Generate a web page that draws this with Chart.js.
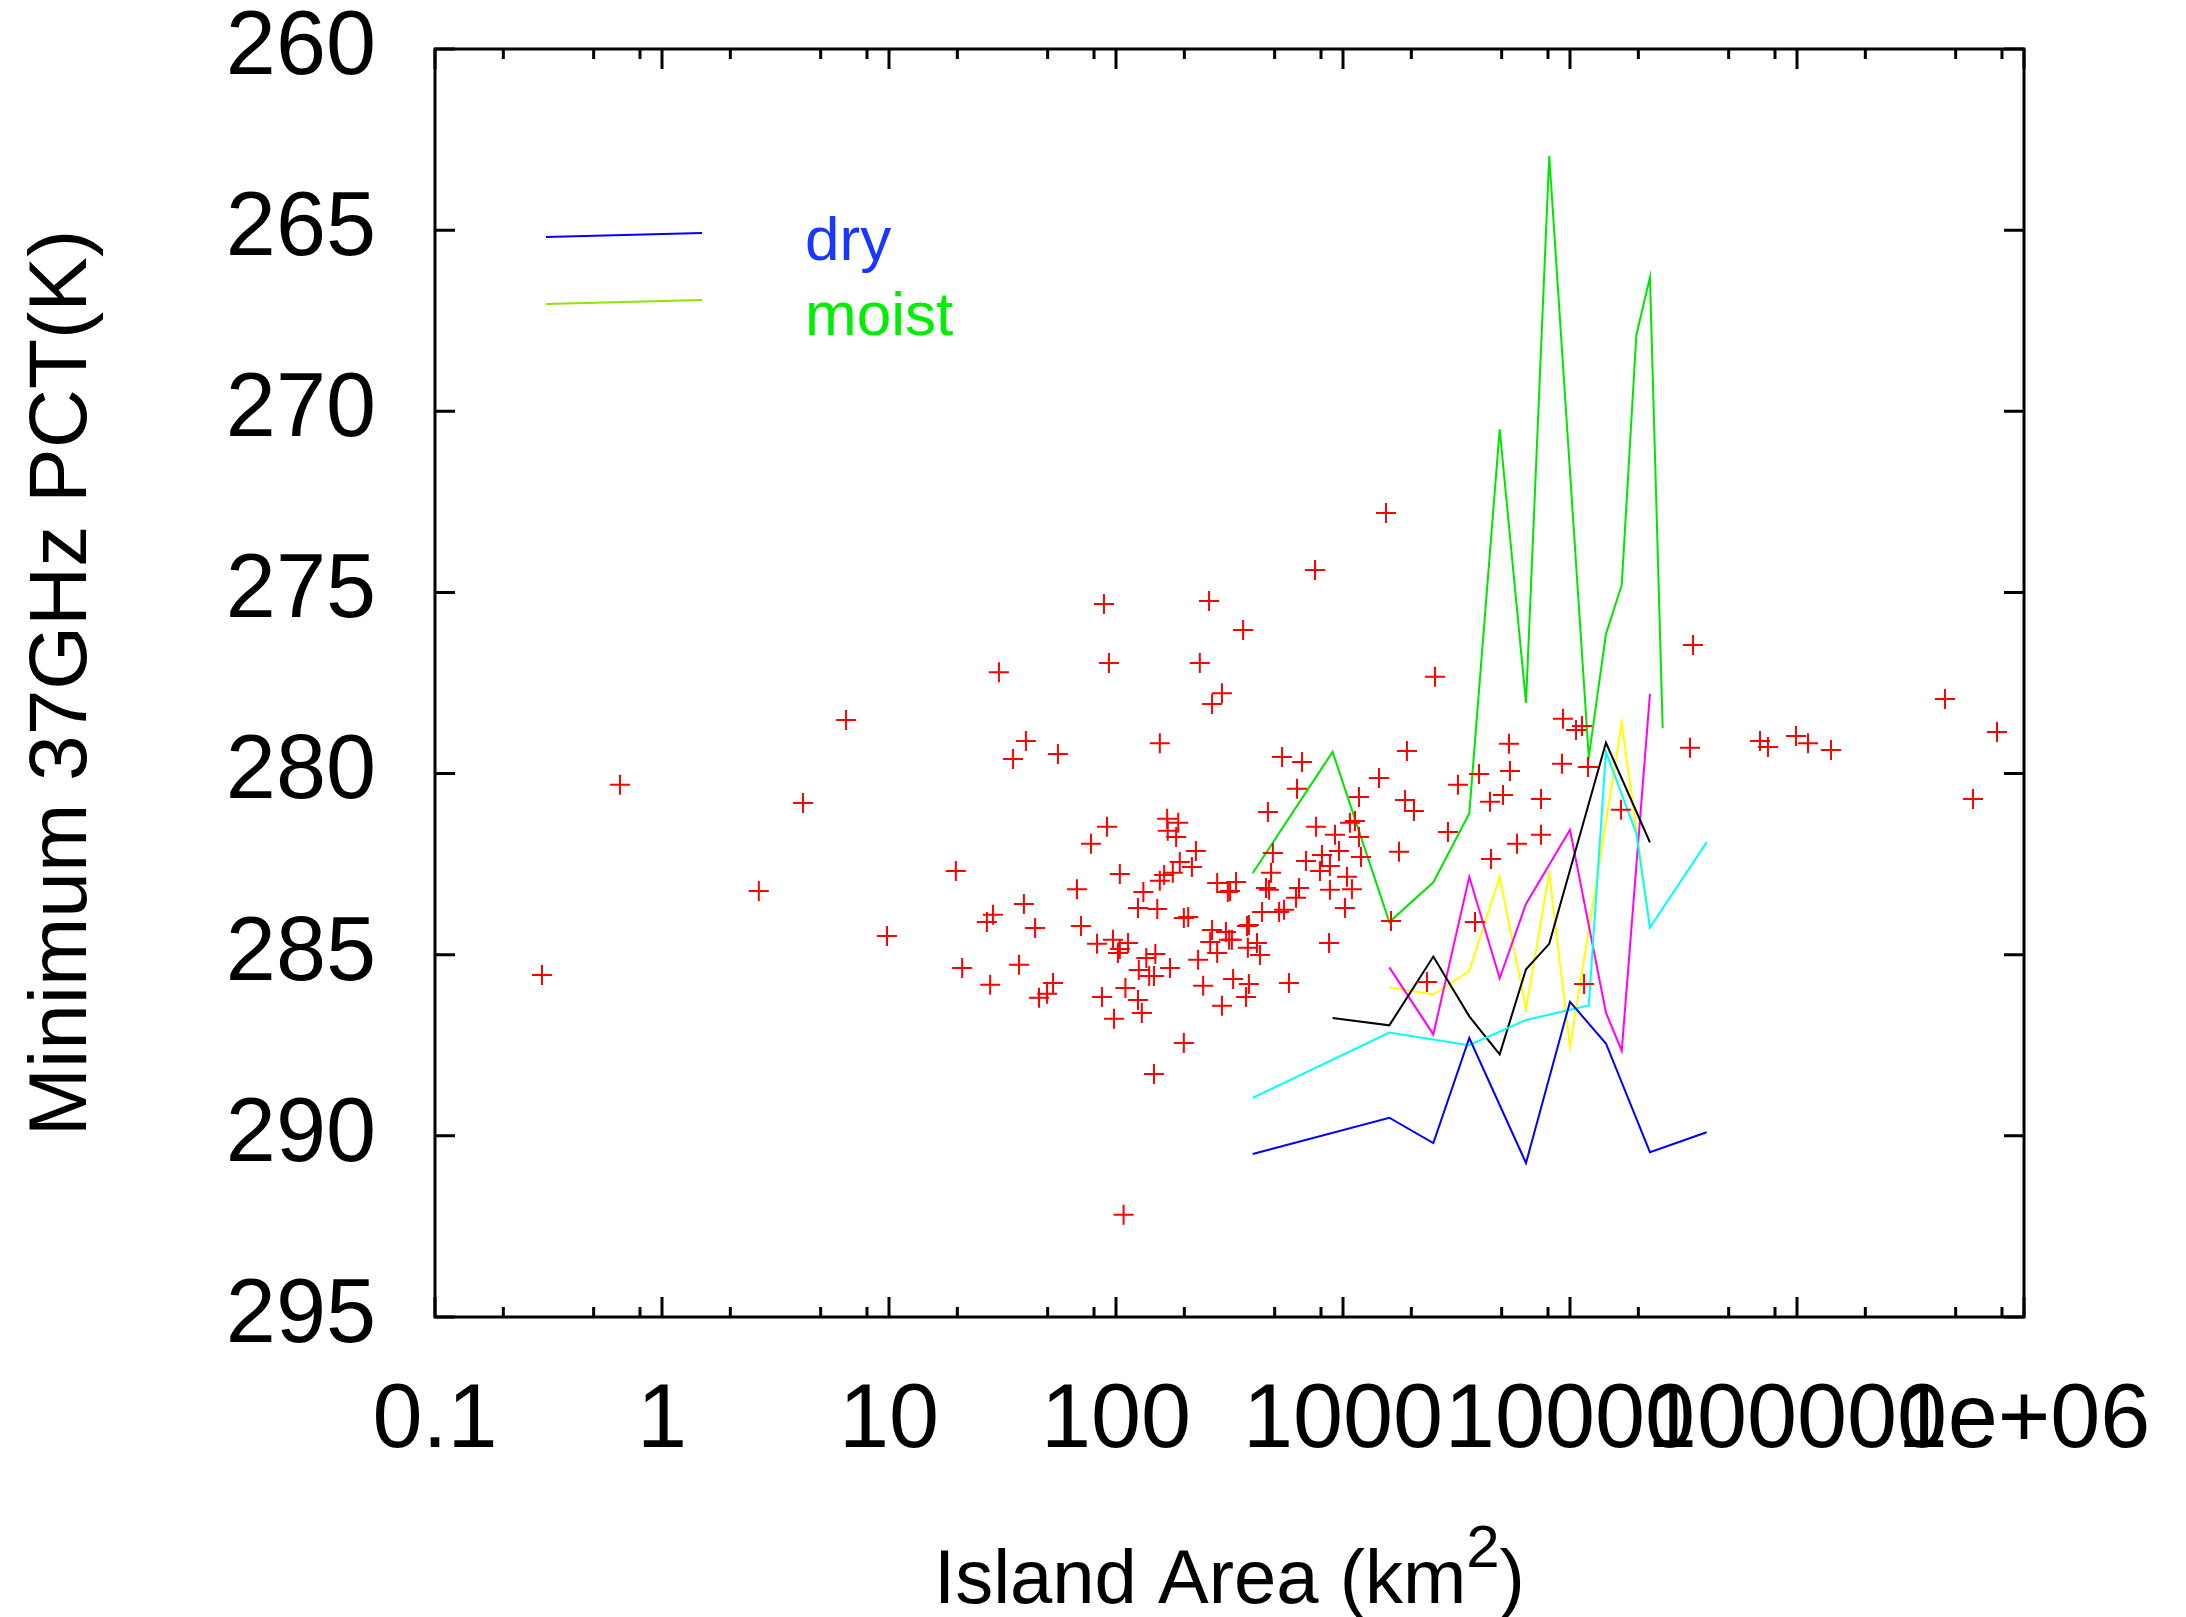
<!DOCTYPE html>
<html>
<head>
<meta charset="utf-8">
<title>Island area vs minimum 37GHz PCT</title>
<script src="https://cdn.jsdelivr.net/npm/chart.js@4.4.1/dist/chart.umd.min.js"></script>
<style>
  html, body { margin: 0; padding: 0; background: #ffffff; }
  canvas { display: block; }
</style>
</head>
<body>
<canvas id="myChart" width="2186" height="1617"></canvas>
<script>
// one entry per island: area (km2) and minimum 37GHz PCT (K)
var islandArea = [
    0.296, 0.653, 2.67, 4.18, 6.47, 9.80, 19.7, 21.0, 27.9, 27.0, 28.7, 30.5, 35.2, 40.1, 39.3, 37.4,
    753, 88.5, 257, 363, 93.1, 234, 293, 265, 55.5, 156, 539, 660, 627, 467, 761, 922,
    91.3, 77.6, 168, 188, 169, 184, 225, 191, 216, 178, 491, 482, 687, 808, 960, 792,
    876, 104, 67.3, 44.0, 70.1, 132, 125, 156, 152, 163, 208, 199, 279, 318, 338, 311,
    458, 472, 440, 523, 550, 640, 621, 876, 1020, 868, 82.5, 97.0, 104, 102, 113, 265,
    260, 305, 315, 324, 378, 385, 418, 381, 431, 279, 230, 173, 136, 149, 126, 140,
    147, 52.8, 49.7, 45.8, 86.8, 110, 125, 130, 98.0, 242, 328, 385, 374, 293, 578, 199,
    147, 108,
    1547, 2543, 34830, 1073, 1129, 1176, 1441, 1913, 1876, 2055, 1176, 1200, 1765, 1041, 1095, 1627,
    2901, 3210, 3973, 4442, 5068, 5386, 5441, 7452, 5843, 7452, 4487, 3815, 9316, 11290, 10630, 9222,
    12000, 16780, 33780, 2344, 11530,
    68710, 74510, 99000, 111800, 141200, 448700, 760500, 596300
];
var islandPct = [
    285.56, 280.31, 283.24, 280.81, 278.52, 284.48, 282.69, 285.37, 285.83, 284.10, 283.90, 277.20, 279.60, 279.10, 283.60, 285.28,
    274.38, 275.32, 275.24, 276.04, 276.95, 276.95, 277.78, 278.08, 279.46, 279.16, 279.54, 279.68, 280.42, 281.06, 281.47, 281.69,
    281.47, 281.94, 281.25, 281.36, 281.58, 281.75, 282.14, 282.44, 282.58, 282.74, 282.19, 282.74, 282.41, 282.25, 282.14, 282.69,
    282.55, 282.77, 283.19, 284.26, 284.21, 283.27, 283.71, 282.96, 283.74, 282.80, 283.96, 283.99, 283.02, 283.24, 282.99, 283.27,
    283.16, 283.21, 283.82, 283.82, 283.76, 283.16, 283.43, 283.21, 283.71, 284.68, 284.70, 284.59, 284.84, 284.95, 284.68, 284.32,
    284.65, 284.37, 284.59, 284.59, 284.21, 284.18, 284.68, 284.81, 285.01, 284.95, 285.14, 285.37, 285.09, 284.98, 285.42, 285.59,
    285.59, 285.78, 286.08, 286.19, 286.17, 285.92, 286.25, 286.61, 286.77, 285.86, 285.67, 285.81, 286.17, 286.41, 285.78, 287.44,
    288.29, 292.18,
    272.81, 277.33, 276.45, 281.36, 281.31, 280.65, 280.12, 279.38, 280.73, 281.03, 281.75, 282.30, 282.16, 282.85, 283.19, 284.07,
    281.61, 280.31, 280.01, 280.78, 280.59, 279.18, 279.93, 280.70, 281.94, 281.69, 282.36, 284.10, 278.49, 278.69, 278.80, 279.73,
    279.82, 281.00, 279.29, 285.75, 285.81,
    279.10, 279.27, 278.96, 279.16, 279.35, 277.94, 278.85, 280.70
];

// bin centres (km2) for the averaged curves, null where a curve has no value
var binArea = [400, 900, 1600, 2500, 3600, 4900, 6400, 8100, 10000, 12100, 14400, 16900, 19600, 22500, 25600, 40000];
var dryPct     = [290.5, null, 289.5, 290.2, 287.3, null, 290.75, null, 286.3, null, 287.45, null, null, 290.45, null, 289.9];
var moistPct   = [282.75, 279.4, 284.1, 283.0, 281.1, 270.5, 278.05, 262.95, null, 279.55, 276.15, 274.8, 267.9, 266.3, 278.75, null];
var cyanPct    = [288.95, null, 287.15, null, 287.5, null, 286.8, null, null, 286.4, 279.4, null, 281.65, 284.25, null, 281.9];
var blackPct   = [null, 286.75, 286.95, 285.05, 286.7, 287.75, 285.4, 284.7, null, null, 279.15, null, null, 281.9, null, null];
var magentaPct = [null, null, 285.35, 287.2, 282.85, 285.65, 283.6, null, 281.55, null, 286.6, 287.65, null, 277.8, null, null];
var yellowPct  = [null, null, 285.9, 286.1, 285.45, 282.85, 286.5, 282.75, 287.55, null, null, 278.6, null, 284.25, null, null];

var areaTicks = [0.1, 1, 10, 100, 1000, 10000, 100000, 1000000];
var areaTickLabels = ["0.1", "1", "10", "100", "1000", "10000", "100000", "1e+06"];
var areaMinor = [2, 5, 8];

var FONT = "'Liberation Sans', Arial, sans-serif";

function curve(vals) {
    var pts = [];
    for (var i = 0; i < binArea.length; i++) {
        if (vals[i] !== null) pts.push({ x: binArea[i], y: vals[i] });
    }
    return pts;
}

function lineSet(label, vals, color) {
    return {
        label: label,
        data: curve(vals),
        showLine: true,
        borderColor: color,
        backgroundColor: color,
        borderWidth: 2,
        pointRadius: 0,
        tension: 0,
        fill: false,
        order: 1
    };
}

// gnuplot style box, inward tics, the two-line key and the x label with km^2
var boxAndKey = {
    id: "boxAndKey",
    afterDraw: function (chart) {
        var ctx = chart.ctx;
        var a = chart.chartArea;
        var xs = chart.scales.x;
        var ys = chart.scales.y;

        ctx.save();
        ctx.strokeStyle = "#000000";
        ctx.lineWidth = 3;
        ctx.strokeRect(a.left, a.top, a.right - a.left, a.bottom - a.top);

        ctx.beginPath();
        for (var i = 0; i < areaTicks.length; i++) {
            var px = xs.getPixelForValue(areaTicks[i]);
            ctx.moveTo(px, a.bottom); ctx.lineTo(px, a.bottom - 20);
            ctx.moveTo(px, a.top); ctx.lineTo(px, a.top + 20);
            if (i < areaTicks.length - 1) {
                for (var m = 0; m < areaMinor.length; m++) {
                    var mx = xs.getPixelForValue(areaTicks[i] * areaMinor[m]);
                    ctx.moveTo(mx, a.bottom); ctx.lineTo(mx, a.bottom - 10);
                    ctx.moveTo(mx, a.top); ctx.lineTo(mx, a.top + 10);
                }
            }
        }
        ys.ticks.forEach(function (t) {
            var py = ys.getPixelForValue(t.value);
            ctx.moveTo(a.left, py); ctx.lineTo(a.left + 20, py);
            ctx.moveTo(a.right, py); ctx.lineTo(a.right - 20, py);
        });
        ctx.stroke();

        // key: dry / moist
        var keys = [
            { ds: chart.data.datasets[1], line: "#0000ff", text: "#1838ff", dy: 0, ty: 211 },
            { ds: chart.data.datasets[2], line: "#8ee600", text: "#00ee00", dy: 67, ty: 286 }
        ];
        ctx.lineWidth = 2;
        ctx.font = "62px " + FONT;
        ctx.textBaseline = "alphabetic";
        keys.forEach(function (k) {
            ctx.strokeStyle = k.line;
            ctx.beginPath();
            ctx.moveTo(a.left + 111, a.top + 188 + k.dy);
            ctx.lineTo(a.left + 267, a.top + 184 + k.dy);
            ctx.stroke();
            ctx.fillStyle = k.text;
            ctx.fillText(k.ds.label, a.left + 370, a.top + k.ty);
        });

        // x axis label, superscript 2 raised above the cap line
        var main = "Island Area (km", sup = "2", tail = ")";
        var mainFont = "76px " + FONT, supFont = "60px " + FONT;
        ctx.fillStyle = "#000000";
        ctx.font = mainFont;
        var w1 = ctx.measureText(main).width, w3 = ctx.measureText(tail).width;
        ctx.font = supFont;
        var w2 = ctx.measureText(sup).width;
        var x0 = (a.left + a.right) / 2 - (w1 + w2 + w3) / 2;
        var base = a.bottom + 286;
        ctx.textAlign = "left";
        ctx.font = mainFont;
        ctx.fillText(main, x0, base);
        ctx.font = supFont;
        ctx.fillText(sup, x0 + w1, base - 36);
        ctx.font = mainFont;
        ctx.fillText(tail, x0 + w1 + w2, base);
        ctx.restore();
    }
};

window.onload = function () {
    var ctx = document.getElementById("myChart").getContext("2d");

    var islands = [];
    for (var i = 0; i < islandArea.length; i++) {
        islands.push({ x: islandArea[i], y: islandPct[i] });
    }

    var myChart = new Chart(ctx, {
        type: "scatter",
        data: {
            datasets: [
                {
                    label: "islands",
                    data: islands,
                    pointStyle: "cross",
                    pointRadius: 10,
                    borderColor: "#ff0000",
                    backgroundColor: "#ff0000",
                    borderWidth: 2,
                    order: 0
                },
                lineSet("dry", dryPct, "#0000ff"),
                lineSet("moist", moistPct, "#00e600"),
                lineSet("", cyanPct, "#00ffff"),
                lineSet("", blackPct, "#000000"),
                lineSet("", magentaPct, "#ff00ff"),
                lineSet("", yellowPct, "#ffff00")
            ]
        },
        options: {
            responsive: false,
            animation: false,
            devicePixelRatio: 1,
            layout: { padding: { top: 49, right: 162, bottom: 0, left: 0 } },
            plugins: {
                legend: { display: false },
                tooltip: { enabled: false }
            },
            scales: {
                x: {
                    type: "logarithmic",
                    position: "bottom",
                    min: 0.1,
                    max: 1000000,
                    grid: { display: false, drawTicks: false },
                    border: { display: false },
                    afterBuildTicks: function (scale) {
                        scale.ticks = areaTicks.map(function (v) { return { value: v }; });
                    },
                    afterFit: function (scale) {
                        scale.height = 300;
                        scale.paddingLeft = 0;
                        scale.paddingRight = 0;
                    },
                    ticks: {
                        autoSkip: false,
                        maxRotation: 0,
                        minRotation: 0,
                        padding: 60,
                        color: "#000000",
                        font: { family: FONT, size: 90, lineHeight: 1 },
                        callback: function (value, index) { return areaTickLabels[index]; }
                    },
                    title: { display: false }
                },
                y: {
                    type: "linear",
                    position: "left",
                    min: 260,
                    max: 295,
                    reverse: true,
                    grid: { display: false, drawTicks: false },
                    border: { display: false },
                    afterFit: function (scale) {
                        scale.width = 435;
                        scale.paddingTop = 0;
                        scale.paddingBottom = 0;
                    },
                    ticks: {
                        stepSize: 5,
                        padding: 59,
                        color: "#000000",
                        font: { family: FONT, size: 90, lineHeight: 1 }
                    },
                    title: {
                        display: true,
                        text: "Minimum 37GHz PCT(K)",
                        color: "#000000",
                        padding: { top: 22, bottom: 0 },
                        font: { family: FONT, size: 82, lineHeight: 1 }
                    }
                }
            }
        },
        plugins: [boxAndKey]
    });
};
</script>
</body>
</html>
